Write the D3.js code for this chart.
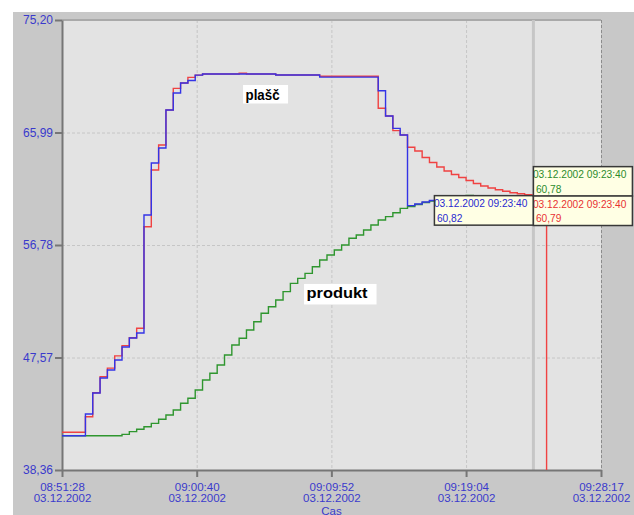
<!DOCTYPE html>
<meta charset='utf-8'>
<style>

body { margin: 0; background: #fff; }
svg { display: block; }
svg text { font: 12px 'Liberation Sans', Arial, sans-serif; }

.axis .domain, .axis .tick line { stroke: #767676; stroke-width: 2px; }
.axis text { fill: #3a3acc; }
.x.axis text { font-size: 11.5px; }
.grid line { stroke: #c6c6c6; stroke-dasharray: 3,2; }
.line { fill: none; stroke-width: 1.4px; }
.tip rect.bg { fill: #ffffe4; }
.tip rect.border { fill: none; stroke: #383838; stroke-width: 1.5px; }
.tip text { font-size: 10.2px; }
.note rect { fill: #fff; }
.note text { font-weight: bold; font-size: 14px; fill: #000; }

</style>
<body>
<script src='https://d3js.org/d3.v7.min.js'></script>
<script>
'use strict'

// Data

let day = '03.12.2002',
	x_ticks = ['08:51:28', '09:00:40', '09:09:52', '09:19:04', '09:28:17'],
	y_ticks = [38.36, 47.57, 56.78, 65.99, 75.20],
	x_title = 'Cas',
	sample_start = '08:51:04', sample_step = 30, // seconds between readings
	cursor_time = '09:23:40'

// plast, red trace
let plast_red = [
	41.45, 41.45, 41.45, 41.45, 42.72, 44.69, 46.00, 46.70, 47.70, 48.54, 49.19, 49.96,
	58.28, 62.92, 64.97, 67.83, 69.60, 70.04, 70.50, 70.69,
	70.78, 70.78, 70.78, 70.78, 70.78, 70.84, 70.78, 70.78, 70.78, 70.78,
	70.70, 70.70, 70.70, 70.70, 70.70, 70.70,
	70.60, 70.60, 70.60, 70.60, 70.60, 70.60, 70.60, 70.60,
	67.97, 67.34, 66.14, 65.79,
	64.78, 64.48, 63.94, 63.53, 63.17, 62.84, 62.55, 62.31, 62.06, 61.82, 61.61, 61.45,
	61.30, 61.18, 61.06, 60.97, 60.89, 60.79,
	60.77, 30.00]

// plast, blue trace
let plast_blue = [
	41.17, 41.17, 41.17, 41.17, 42.94, 44.66, 45.89, 46.55, 47.37, 48.43, 49.17, 49.58,
	59.24, 63.49, 64.72, 67.83, 69.22, 70.04, 70.25, 70.69,
	70.78, 70.78, 70.78, 70.78, 70.78, 70.78, 70.78, 70.78, 70.78, 70.78,
	70.70, 70.70, 70.70, 70.70, 70.70, 70.70,
	70.52, 70.52, 70.52, 70.52, 70.52, 70.52, 70.52, 70.52,
	69.41, 67.34, 66.33, 65.79,
	60.00, 60.14, 60.30, 60.42, 60.50, 60.55, 60.59, 60.64, 60.67, 60.71, 60.73, 60.75,
	60.77, 60.79, 60.79, 60.80, 60.81, 60.82]

// produkt, green trace
let produkt = [
	41.17, 41.17, 41.17, 41.17, 41.17, 41.17, 41.17, 41.17, 41.17,
	41.28, 41.50, 41.69, 41.90, 42.18, 42.51, 42.86, 43.27, 43.82, 44.23, 44.91,
	45.73, 46.28, 46.96, 47.77, 48.59, 49.14, 49.82, 50.50, 51.19, 51.73,
	52.28, 52.96, 53.64, 54.05, 54.46, 55.00, 55.55, 55.96, 56.37, 56.78,
	57.33, 57.60, 58.01, 58.42, 58.83, 59.10, 59.42, 59.78, 59.92, 60.10,
	60.26, 60.38, 60.51, 60.59, 60.67, 60.75, 60.83, 60.81, 60.79, 60.79,
	60.78, 60.78, 60.78, 60.78, 60.78, 60.78]

// values shown in the cursor boxes
let cursor_values = {blue: 60.82, green: 60.78, red: 60.79}


// Boilerplate

let W = 634, H = 515,
	margin = {top: 20, right: 33, bottom: 45, left: 62},
	width = W - margin.left - margin.right,
	height = H - margin.top - margin.bottom,
	parse = d3.timeParse('%d.%m.%Y %H:%M:%S'),
	at = s => parse(`${day} ${s}`),
	comma = v => d3.format('.2f')(v).replace('.', ','),
	x = d3.scaleTime().domain([at(x_ticks[0]), at(x_ticks[x_ticks.length-1])]).range([0, width]),
	y = d3.scaleLinear().domain([y_ticks[0], y_ticks[y_ticks.length-1]]).range([height, 0])

let samples = vals => vals.map((v, i) =>
	({t: d3.timeSecond.offset(at(sample_start), i * sample_step), v: v}))

let cursor = at(cursor_time),
	red = samples(plast_red),
	blue = samples(plast_blue).concat([{t: cursor, v: cursor_values.blue}]),
	green = samples(produkt).concat([{t: cursor, v: cursor_values.green}])

let svg = d3.select('body').append('svg').attr('width', W).attr('height', H)

svg.append('rect').attr('x', 13).attr('y', 12).attr('width', W - 13).attr('height', H - 12)
	.attr('fill', '#c8c8c8')

let vis = svg.append('g').attr('transform', `translate(${margin.left},${margin.top})`)

vis.append('rect').attr('width', width).attr('height', height).attr('fill', '#e3e3e3')
vis.append('clipPath').attr('id', 'plot')
	.append('rect').attr('width', width).attr('height', height)


// Grid, cursor, axes

vis.append('g').attr('class', 'grid')
	.call(d3.axisBottom(x).tickValues(x_ticks.slice(1).map(at)).tickSize(height).tickFormat(''))
	.call(s => s.select('.domain').remove())
vis.append('g').attr('class', 'grid')
	.call(d3.axisLeft(y).tickValues(y_ticks.slice(1, -1)).tickSize(-width).tickFormat(''))
	.call(s => s.select('.domain').remove())
vis.select('.grid .tick:last-of-type line').style('stroke', '#8c8c8c')

vis.append('line').attr('x1', 0).attr('x2', width).attr('y1', 0).attr('y2', 0)
	.attr('stroke', '#a9a9a9').attr('stroke-width', 2)

vis.append('line').attr('x1', x(cursor)).attr('x2', x(cursor)).attr('y1', 0).attr('y2', height)
	.attr('stroke', '#c6c6c6').attr('stroke-width', 3)

vis.append('g').attr('class', 'y axis')
	.call(d3.axisLeft(y).tickValues(y_ticks).tickSize(7).tickSizeOuter(0).tickPadding(2).tickFormat(comma))

vis.append('g').attr('class', 'x axis').attr('transform', `translate(0,${height})`)
	.call(d3.axisBottom(x).tickValues(x_ticks.map(at)).tickSize(7).tickSizeOuter(0).tickFormat(''))
	.call(s => s.selectAll('.tick').each(function(d, i) {
		let t = d3.select(this).append('text').attr('text-anchor', 'middle')
		t.append('tspan').attr('x', 0).attr('y', 20.5).text(x_ticks[i])
		t.append('tspan').attr('x', 0).attr('y', 31.5).text(day) }))
	.append('text').attr('x', width / 2).attr('y', 44.5).attr('text-anchor', 'middle').text(x_title)


// Traces

let line = d3.line().x(d => x(d.t)).y(d => y(d.v)).curve(d3.curveStepAfter)
let traces = vis.append('g').attr('clip-path', 'url(#plot)')
;[[green, '#2f962f'], [red, '#f04242'], [blue, '#3434e6']].forEach(([data, c]) =>
	traces.append('path').datum(data).attr('class', 'line').attr('stroke', c).attr('d', line))


// Labels

let notes = [
	{text: 'plašč', t: '09:03:50', v: 69.88, w: 45, h: 18.5, len: 34, dy: 15},
	{text: 'produkt', t: '09:08:00', v: 53.59, w: 72.5, h: 20.5, len: 61, dy: 14.5}]
notes.forEach(n => {
	let g = vis.append('g').attr('class', 'note')
		.attr('transform', `translate(${x(at(n.t))},${y(n.v)})`)
	g.append('rect').attr('width', n.w).attr('height', n.h)
	g.append('text').attr('x', 2.5).attr('y', n.dy)
		.attr('textLength', n.len).attr('lengthAdjust', 'spacingAndGlyphs').text(n.text) })


// Cursor boxes

let tips = [
	{key: 'blue', color: '#2a2ad0', side: -1, above: false},
	{key: 'green', color: '#2c8c2c', side: 1, above: true},
	{key: 'red', color: '#e83232', side: 1, above: false}]
let tw = 99, th = 29.5
tips.forEach(tp => {
	let v = cursor_values[tp.key],
		x0 = tp.side < 0 ? x(cursor) - tw : x(cursor),
		y0 = tp.above ? y(v) - th : y(v),
		g = vis.append('g').attr('class', 'tip').attr('transform', `translate(${x0},${y0})`)
	g.append('rect').attr('class', 'bg').attr('width', tw).attr('height', th)
	g.append('text').attr('x', -0.5).attr('y', 11.5).attr('fill', tp.color)
		.text(`${day} ${cursor_time}`)
	g.append('text').attr('x', 2.5).attr('y', 26).attr('fill', tp.color).text(comma(v))
	g.append('rect').attr('class', 'border').attr('width', tw).attr('height', th) })

</script>
</body>
